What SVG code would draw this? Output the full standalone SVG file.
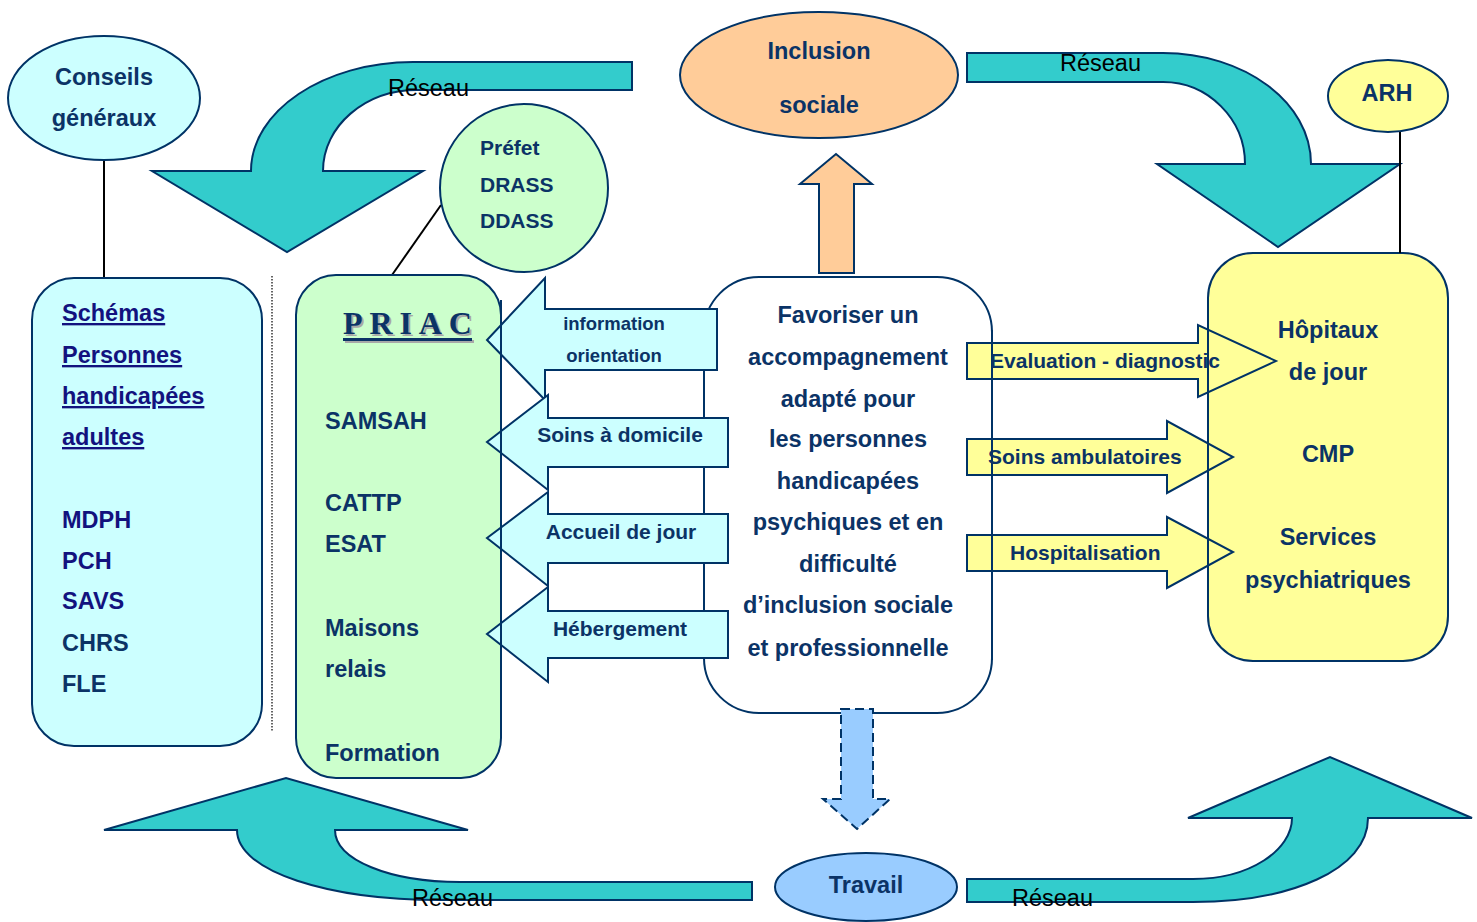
<svg xmlns="http://www.w3.org/2000/svg" width="1477" height="922" viewBox="0 0 1477 922">
<style>
.t{font-family:"Liberation Sans",Arial,sans-serif;font-weight:bold;font-size:23.5px;fill:#0B3366}
.f21{font-size:21px}
.f18{font-size:18.5px}
.nv{fill:#12127E}
.u{text-decoration:underline}
.r{font-family:"Liberation Sans",Arial,sans-serif;font-size:23.5px;fill:#000}
.m{text-anchor:middle}
.s{stroke:#003366;stroke-width:2;stroke-linejoin:miter}
.teal{fill:#33CCCC}
.cy{fill:#CCFFFF}
.gr{fill:#CCFFCC}
.ye{fill:#FFFF99}
.or{fill:#FFCC99}
.bl{fill:#99CCFF}
.ln{stroke:#000;stroke-width:2;fill:none}
.pr{font-family:"Liberation Serif","Times New Roman",serif;font-weight:bold;font-size:32px}
</style>
<defs>
<clipPath id="fc"><rect x="296" y="700" width="205" height="61"/></clipPath>
</defs>
<rect width="1477" height="922" fill="#fff"/>

<g id="connectors">
<line class="ln" x1="104" y1="158" x2="104" y2="278"/>
<line class="ln" x1="392" y1="275" x2="441" y2="205" stroke-width="1.5"/>
<line x1="272" y1="276" x2="272" y2="731" stroke="#333" stroke-width="1.5" stroke-dasharray="1.5,1.5"/>
</g>

<g id="reseau-top-left">
<path class="teal s" d="M632,62 L413,62 C324,62 251,111 251,171 L152,171 L287,252 L423,171 L323,171 C323,126 365,90 417,90 L632,90 Z"/>
<text class="r" x="388" y="96">Réseau</text>
</g>
<g id="reseau-top-right">
<path class="teal s" d="M967,53 L1163,53 C1244,53 1311,102 1311,164 L1400,164 L1278,247 L1157,164 L1245,164 C1245,119 1208,82 1163,82 L967,82 Z"/>
<text class="r" x="1060" y="71">Réseau</text>
</g>
<g id="reseau-bottom-left">
<path class="teal s" d="M752,882 L460,882 C390,882 335,860 335,830 L468,830 L286,778 L104,830 L237,830 C237,872 330,900 440,900 L752,900 Z"/>
<text class="r" x="412" y="906">Réseau</text>
</g>
<g id="reseau-bottom-right">
<path class="teal s" d="M967,879 L1193,879 C1250,879 1292,850 1292,818 L1188,818 L1330,757 L1472,818 L1368,818 C1368,870 1290,902 1193,902 L967,902 Z"/>
<text class="r" x="1012" y="906">Réseau</text>
</g>

<g id="conseils">
<ellipse class="cy s" cx="104" cy="98" rx="96" ry="62"/>
<text class="t m" x="104" y="85">Conseils</text>
<text class="t m" x="104" y="126">généraux</text>
</g>

<g id="schemas">
<rect class="cy s" x="32" y="278" width="230" height="468" rx="42"/>
<text class="t nv u" x="62" y="321">Schémas</text>
<text class="t nv u" x="62" y="363">Personnes</text>
<text class="t nv u" x="62" y="404">handicapées</text>
<text class="t nv u" x="62" y="445">adultes</text>
<text class="t nv" x="62" y="528">MDPH</text>
<text class="t nv" x="62" y="569">PCH</text>
<text class="t nv" x="62" y="609">SAVS</text>
<text class="t" x="62" y="651">CHRS</text>
<text class="t" x="62" y="692">FLE</text>
</g>

<g id="prefet">
<circle class="gr s" cx="524" cy="188" r="84"/>
<text class="t f21" x="480" y="155">Préfet</text>
<text class="t f21" x="480" y="192">DRASS</text>
<text class="t f21" x="480" y="228">DDASS</text>
</g>

<g id="priac">
<rect class="gr s" x="296" y="275" width="205" height="503" rx="40"/>
<text class="pr" x="345 371.5 401.5 420.8 450.8" y="336" fill="#A8A8A8">PRIAC</text>
<rect x="345" y="340" width="129" height="3" fill="#A8A8A8"/>
<text class="pr" x="343 369.5 399.5 418.8 448.8" y="334" fill="#0B3366">PRIAC</text>
<rect x="343" y="338" width="129" height="3" fill="#0B3366"/>
<text class="t" x="325" y="429">SAMSAH</text>
<text class="t" x="325" y="511">CATTP</text>
<text class="t" x="325" y="552">ESAT</text>
<text class="t" x="325" y="636">Maisons</text>
<text class="t" x="325" y="677">relais</text>
<text class="t" x="325" y="761" clip-path="url(#fc)">Formation</text>
</g>

<g id="inclusion">
<ellipse class="or s" cx="819" cy="75" rx="139" ry="63"/>
<text class="t m" x="819" y="59">Inclusion</text>
<text class="t m" x="819" y="113">sociale</text>
</g>

<g id="arh">
<ellipse class="ye s" cx="1388" cy="96" rx="60" ry="36"/>
<text class="t m" x="1387" y="101">ARH</text>
</g>

<g id="hopitaux">
<rect class="ye s" x="1208" y="253" width="240" height="408" rx="45"/>
<text class="t m" x="1328" y="338">Hôpitaux</text>
<text class="t m" x="1328" y="380">de jour</text>
<text class="t m" x="1328" y="462">CMP</text>
<text class="t m" x="1328" y="545">Services</text>
<text class="t m" x="1328" y="588">psychiatriques</text>
</g>

<g id="centre">
<rect class="s" fill="#fff" x="704" y="277" width="288" height="436" rx="55"/>
<text class="t m" x="848" y="323">Favoriser un</text>
<text class="t m" x="848" y="365">accompagnement</text>
<text class="t m" x="848" y="407">adapté pour</text>
<text class="t m" x="848" y="447">les personnes</text>
<text class="t m" x="848" y="489">handicapées</text>
<text class="t m" x="848" y="530">psychiques et en</text>
<text class="t m" x="848" y="572">difficulté</text>
<text class="t m" x="848" y="613">d’inclusion sociale</text>
<text class="t m" x="848" y="656">et professionnelle</text>
</g>

<g id="travail">
<ellipse class="bl s" cx="866" cy="887" rx="91" ry="34"/>
<text class="t m" x="866" y="893">Travail</text>
</g>

<g id="arrows">
<path class="or s" d="M819,273 L819,184 L800,184 L836,154 L872,184 L854,184 L854,273 Z"/>
<path class="bl s" stroke-dasharray="9,5" d="M841,709 L873,709 L873,799 L890,799 L857,829 L823,799 L841,799 Z"/>

<path class="cy s" d="M717,309 L545,309 L545,278 L487,340 L545,400 L545,370 L717,370 Z"/>
<path class="cy s" d="M728,418 L548,418 L548,395 L487,442 L548,490 L548,467 L728,467 Z"/>
<path class="cy s" d="M728,514 L548,514 L548,492 L487,538 L548,586 L548,563 L728,563 Z"/>
<path class="cy s" d="M728,611 L548,611 L548,587 L487,634 L548,682 L548,658 L728,658 Z"/>
<line class="s" x1="501" y1="300" x2="501" y2="720"/>
<text class="t m f18" x="614" y="330">information</text>
<text class="t m f18" x="614" y="362">orientation</text>
<text class="t m f21" x="620" y="442">Soins à domicile</text>
<text class="t m f21" x="621" y="539">Accueil de jour</text>
<text class="t m f21" x="620" y="636">Hébergement</text>

<path class="ye s" d="M967,343 L1198,343 L1198,325 L1276,361 L1198,397 L1198,379 L967,379 Z"/>
<path class="ye s" d="M967,439 L1167,439 L1167,421 L1233,457 L1167,493 L1167,475 L967,475 Z"/>
<path class="ye s" d="M967,535 L1167,535 L1167,517 L1233,552 L1167,588 L1167,571 L967,571 Z"/>
<line class="s" x1="992" y1="330" x2="992" y2="660"/>
<line class="s" x1="1208" y1="300" x2="1208" y2="615"/>
<text class="t m f21" x="1105" y="368">Evaluation - diagnostic</text>
<text class="t f21" x="988" y="464">Soins ambulatoires</text>
<text class="t f21" x="1010" y="560">Hospitalisation</text>
<line class="ln" x1="1400" y1="132" x2="1400" y2="253"/>
</g>
</svg>
